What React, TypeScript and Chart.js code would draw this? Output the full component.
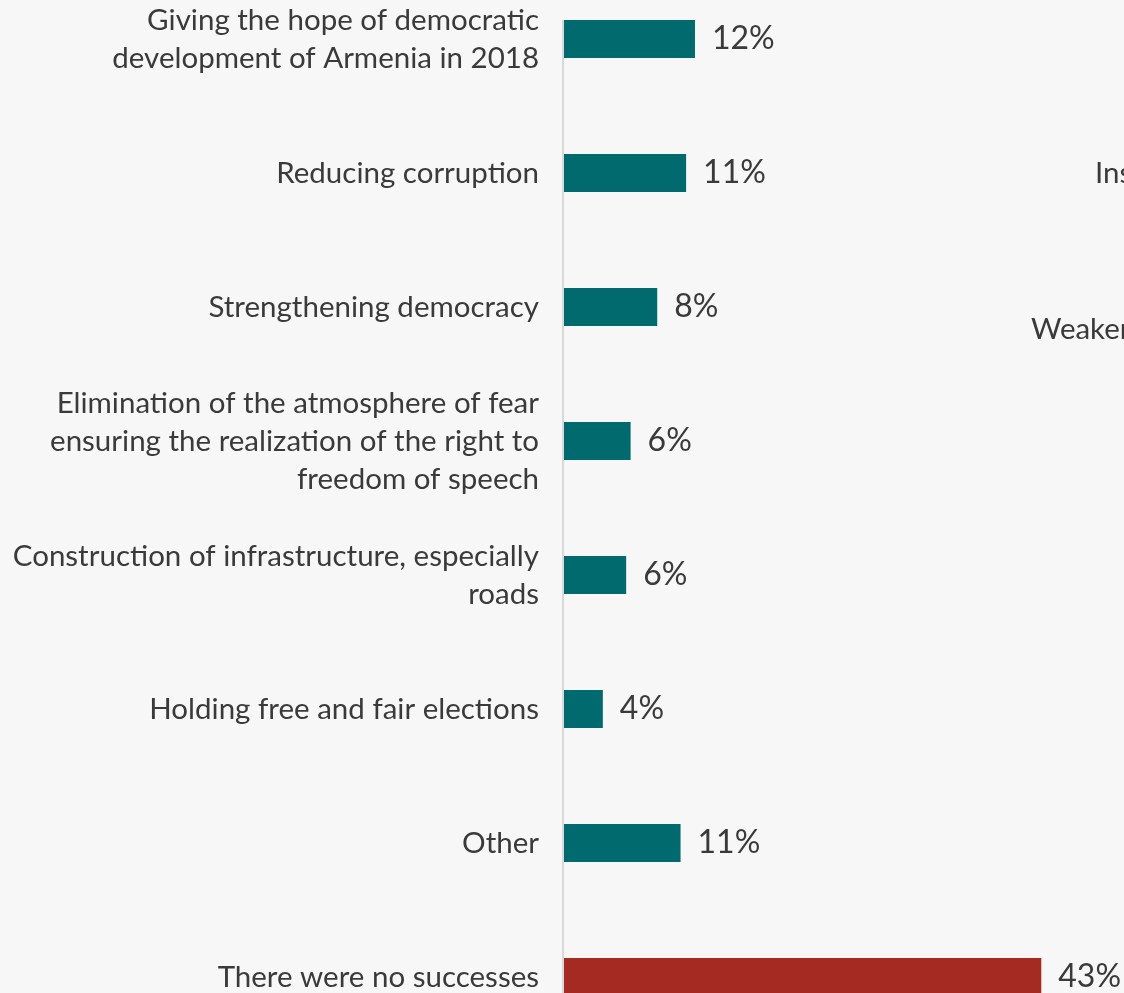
import React, { useEffect, useRef } from "react";
import { Chart, registerables } from "chart.js";

Chart.register(...registerables);

const categories: (string | string[])[] = [
  ["Giving the hope of democratic", "development of Armenia in 2018"],
  "Reducing corruption",
  "Strengthening democracy",
  [
    "Elimination of the atmosphere of fear",
    "ensuring the realization of the right to",
    "freedom of speech",
  ],
  ["Construction of infrastructure, especially", "roads"],
  "Holding free and fair elections",
  "Other",
  "There were no successes",
];

const values = [11.8, 11.0, 8.4, 6.0, 5.6, 3.5, 10.5, 43.0];
const valueLabels = ["12%", "11%", "8%", "6%", "6%", "4%", "11%", "43%"];

const TEAL = "#006a6e";
const RED = "#a52a22";
const barColors = [TEAL, TEAL, TEAL, TEAL, TEAL, TEAL, TEAL, RED];

const TEXT = "#3a3a3a";
const FONT = "Lato";

const valueLabelPlugin = {
  id: "valueLabels",
  afterDatasetsDraw(chart: any) {
    const ctx = chart.ctx;
    const meta = chart.getDatasetMeta(0);
    ctx.save();
    ctx.font = `32px ${FONT}`;
    ctx.fillStyle = TEXT;
    ctx.textAlign = "left";
    ctx.textBaseline = "middle";
    meta.data.forEach((bar: any, i: number) => {
      ctx.fillText(valueLabels[i], bar.x + 17, bar.y);
    });
    ctx.restore();
  },
};

const axisLinePlugin = {
  id: "axisLine",
  afterDatasetsDraw(chart: any) {
    const ctx = chart.ctx;
    const meta = chart.getDatasetMeta(0);
    const first = meta.data[0];
    const top = first.y - first.height / 2;
    ctx.save();
    ctx.strokeStyle = "#d9d9d9";
    ctx.lineWidth = 2;
    ctx.beginPath();
    ctx.moveTo(chart.chartArea.left - 1, top);
    ctx.lineTo(chart.chartArea.left - 1, chart.chartArea.bottom);
    ctx.stroke();
    ctx.restore();
  },
};

export default function App() {
  const ref = useRef<HTMLCanvasElement | null>(null);

  useEffect(() => {
    if (!ref.current) return;
    const chart = new Chart(ref.current, {
      type: "bar",
      data: {
        labels: categories,
        datasets: [
          {
            data: values,
            backgroundColor: barColors,
            borderWidth: 0,
            categoryPercentage: 1,
            barPercentage: 0.284,
          },
        ],
      },
      options: {
        indexAxis: "y",
        responsive: false,
        animation: false,
        layout: { padding: { top: 0, left: 0, right: 5, bottom: 0 } },
        plugins: {
          legend: { display: false },
          tooltip: { enabled: false },
        },
        scales: {
          x: { display: false, min: 0, max: 50 },
          y: {
            grid: { display: false },
            border: { display: false },
            ticks: {
              color: TEXT,
              padding: 17,
              font: { family: FONT, size: 29.5, lineHeight: "38px" },
            },
            afterFit(scale: any) {
              scale.width = 564;
              scale.paddingTop = 0;
              scale.paddingBottom = 0;
            },
          },
        },
      },
      plugins: [axisLinePlugin, valueLabelPlugin],
    });
    return () => chart.destroy();
  }, []);

  return (
    <div
      style={{
        position: "fixed",
        left: 0,
        top: 0,
        width: 1124,
        height: 993,
        overflow: "hidden",
        background: "#f7f7f7",
      }}
    >
      <canvas
        ref={ref}
        width={1124}
        height={1072}
        style={{ position: "absolute", left: 0, top: -28, width: 1124, height: 1072 }}
      />
      <div
        style={{
          position: "absolute",
          left: 1095,
          top: 154,
          font: `29.5px ${FONT}`,
          color: TEXT,
          whiteSpace: "nowrap",
        }}
      >
        Ins
      </div>
      <div
        style={{
          position: "absolute",
          left: 1031,
          top: 310,
          font: `29.5px ${FONT}`,
          color: TEXT,
          whiteSpace: "nowrap",
        }}
      >
        Weaker
      </div>
    </div>
  );
}
